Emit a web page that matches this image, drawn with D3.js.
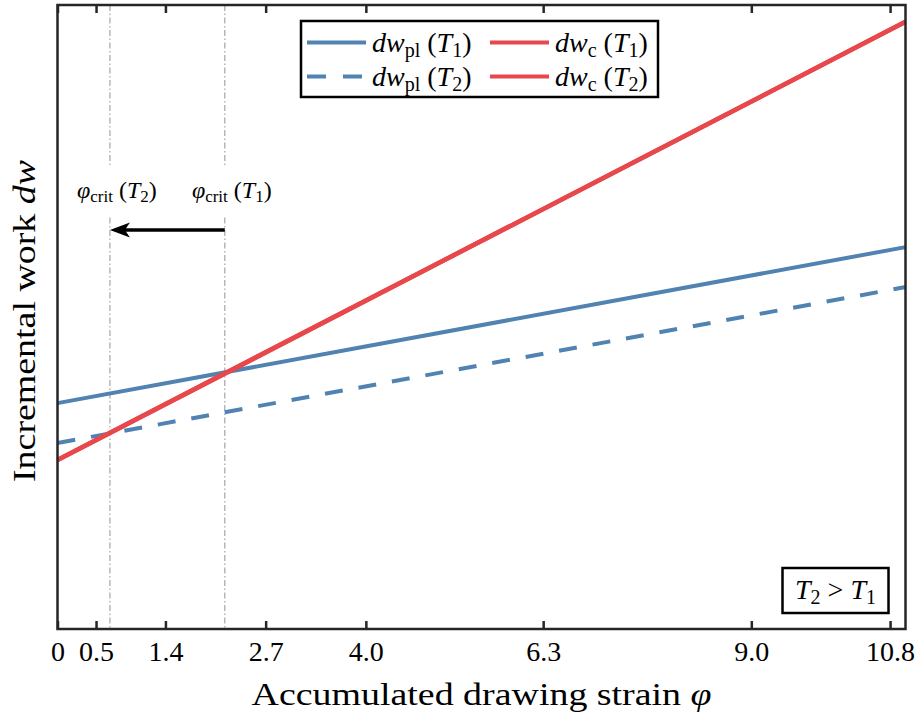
<!DOCTYPE html>
<html>
<head>
<meta charset="utf-8">
<script src="https://cdn.jsdelivr.net/npm/d3@7"></script>
<style>
  body { margin: 0; background: #fff; }
  svg text { font-family: "Liberation Serif", "DejaVu Serif", serif; fill: #000; }
</style>
</head>
<body>
<svg id="chart" width="916" height="719"></svg>
<script>
// ---------- data ----------
const strain = [0, 11];                 // x extent of the lines
const dwPlT1 = [36.2, 61.2];            // solid blue
const dwPlT2 = [29.8, 54.8];            // dashed blue
const dwCT1  = [27.1, 97.3];            // red
const dwCT2  = [27.1, 97.3];            // red (same line)
const xTicks = [0, 0.5, 1.4, 2.7, 4.0, 6.3, 9.0, 10.8];
const xTickLabels = ["0", "0.5", "1.4", "2.7", "4.0", "6.3", "9.0", "10.8"];
const phiCritNames = ["T1", "T2"];
const phiCrit = [2.17, 0.68];
const seriesNames = ["dwPlT1", "dwCT1", "dwPlT2", "dwCT2"];

// ---------- setup ----------
const svg = d3.select("#chart");
const margin = {left: 57.5, right: 905.5, top: 5, bottom: 629};
const x = d3.scaleLinear().domain([0, 11]).range([margin.left, margin.right]);
const y = d3.scaleLinear().domain([0, 100]).range([margin.bottom, margin.top]);
const BLUE = "#5083b1", RED = "#e8474b", AX = "#262626";

const line = d3.line().x(d => x(d[0])).y(d => y(d[1]));
const pts = vals => strain.map((s, i) => [s, vals[i]]);

// vertical critical lines
svg.selectAll(".crit").data(phiCrit).join("line")
  .attr("x1", d => x(d)).attr("x2", d => x(d))
  .attr("y1", y(100)).attr("y2", y(0))
  .attr("stroke", "#a6a6a6").attr("stroke-width", 1.2)
  .attr("stroke-dasharray", "6,2.5,1.5,2.5");

// series lines
svg.append("path").attr("d", line(pts(dwPlT1))).attr("fill", "none")
  .attr("stroke", BLUE).attr("stroke-width", 4);
svg.append("path").attr("d", line(pts(dwPlT2))).attr("fill", "none")
  .attr("stroke", BLUE).attr("stroke-width", 4).attr("stroke-dasharray", "18,16");
svg.append("path").attr("d", line(pts(dwCT2))).attr("fill", "none")
  .attr("stroke", RED).attr("stroke-width", 4.5);
svg.append("path").attr("d", line(pts(dwCT1))).attr("fill", "none")
  .attr("stroke", RED).attr("stroke-width", 4.5);

// critical labels with white background
const critLabelY = 198;
phiCrit.forEach((v, i) => {
  const g = svg.append("g");
  const bg = g.append("rect").attr("fill", "#fff");
  const t = g.append("text").attr("x", x(v) + 7).attr("y", critLabelY)
    .attr("text-anchor", "middle").style("font-size", "24px");
  t.append("tspan").style("font-style", "italic").text("φ");
  t.append("tspan").attr("dy", 4).style("font-size", "17px").text("crit");
  t.append("tspan").attr("dy", -4).text(" (");
  t.append("tspan").style("font-style", "italic").text("T");
  t.append("tspan").attr("dy", 4).style("font-size", "17px").text(phiCritNames[i].slice(1));
  t.append("tspan").attr("dy", -4).text(")");
  const bb = t.node().getBBox();
  bg.attr("x", bb.x - 3).attr("width", bb.width + 6).attr("y", 165).attr("height", 50);
});

// arrow
svg.append("line")
  .attr("x1", x(phiCrit[0])).attr("x2", x(phiCrit[1]) + 6)
  .attr("y1", 230).attr("y2", 230)
  .attr("stroke", "#000").attr("stroke-width", 3.6);
svg.append("path")
  .attr("d", `M${x(phiCrit[1])},230 L${x(phiCrit[1]) + 20},222.5 L${x(phiCrit[1]) + 15},230 L${x(phiCrit[1]) + 20},237.5 Z`)
  .attr("fill", "#000");

// axes
const xAxisB = d3.axisBottom(x).tickValues(xTicks).tickFormat((d, i) => xTickLabels[i])
  .tickSizeInner(-8).tickSizeOuter(0).tickPadding(12);
const gB = svg.append("g").attr("transform", `translate(0,${margin.bottom})`).call(xAxisB);
gB.select(".domain").remove();
gB.selectAll(".tick line").attr("stroke", AX).attr("stroke-width", 2.5);
gB.selectAll(".tick text").style("font-family", "'Liberation Serif', serif")
  .style("font-size", "28px").attr("fill", "#000");

const xAxisT = d3.axisTop(x).tickValues(xTicks).tickFormat("")
  .tickSizeInner(-8).tickSizeOuter(0);
const gT = svg.append("g").attr("transform", `translate(0,${margin.top})`).call(xAxisT);
gT.select(".domain").remove();
gT.selectAll(".tick line").attr("stroke", AX).attr("stroke-width", 2.5);

svg.append("rect").attr("x", margin.left).attr("y", margin.top)
  .attr("width", margin.right - margin.left).attr("height", margin.bottom - margin.top)
  .attr("fill", "none").attr("stroke", AX).attr("stroke-width", 2.5);

// axis titles
const xt = svg.append("text").attr("x", (margin.left + margin.right) / 2).attr("y", 705)
  .attr("text-anchor", "middle").style("font-size", "32px")
  .attr("textLength", 460).attr("lengthAdjust", "spacingAndGlyphs");
xt.append("tspan").text("Accumulated drawing strain ");
xt.append("tspan").style("font-style", "italic").text("φ");

const yt = svg.append("text").attr("transform", `translate(35,${(margin.top + margin.bottom) / 2 + 4}) rotate(-90)`)
  .attr("text-anchor", "middle").style("font-size", "32px")
  .attr("textLength", 322).attr("lengthAdjust", "spacingAndGlyphs");
yt.append("tspan").text("Incremental work ");
yt.append("tspan").style("font-style", "italic").text("dw");

// legend
const lg = svg.append("g");
lg.append("rect").attr("x", 301).attr("y", 21).attr("width", 357).attr("height", 76)
  .attr("fill", "#fff").attr("stroke", "#000").attr("stroke-width", 2.5);
const legendItems = [
  {name: seriesNames[0], color: BLUE, dash: null, sub: "pl", t: "1", col: 0, row: 0},
  {name: seriesNames[1], color: RED, dash: null, sub: "c", t: "1", col: 1, row: 0},
  {name: seriesNames[2], color: BLUE, dash: "19,17", sub: "pl", t: "2", col: 0, row: 1},
  {name: seriesNames[3], color: RED, dash: null, sub: "c", t: "2", col: 1, row: 1}
];
const colX = [307, 490], rowY = [42.5, 76.5];
legendItems.forEach(it => {
  const lx = colX[it.col], ly = rowY[it.row];
  lg.append("line").attr("x1", lx).attr("x2", lx + 59).attr("y1", ly).attr("y2", ly)
    .attr("stroke", it.color).attr("stroke-width", 4)
    .attr("stroke-dasharray", it.dash);
  const t = lg.append("text").attr("x", lx + 65).attr("y", ly + 9).style("font-size", "28px");
  t.append("tspan").style("font-style", "italic").text("dw");
  t.append("tspan").attr("dy", 5).style("font-size", "20px").text(it.sub);
  t.append("tspan").attr("dy", -5).text(" (");
  t.append("tspan").style("font-style", "italic").text("T");
  t.append("tspan").attr("dy", 5).style("font-size", "20px").text(it.t);
  t.append("tspan").attr("dy", -5).text(")");
});

// T2 > T1 box
svg.append("rect").attr("x", 782.5).attr("y", 568).attr("width", 106).attr("height", 45)
  .attr("fill", "#fff").attr("stroke", "#000").attr("stroke-width", 2.5);
const tb = svg.append("text").attr("x", 835.5).attr("y", 599).attr("text-anchor", "middle")
  .style("font-size", "28px");
tb.append("tspan").style("font-style", "italic").text("T");
tb.append("tspan").attr("dy", 5).style("font-size", "20px").text("2");
tb.append("tspan").attr("dy", -5).text(" > ");
tb.append("tspan").style("font-style", "italic").text("T");
tb.append("tspan").attr("dy", 5).style("font-size", "20px").text("1");
</script>
</body>
</html>
